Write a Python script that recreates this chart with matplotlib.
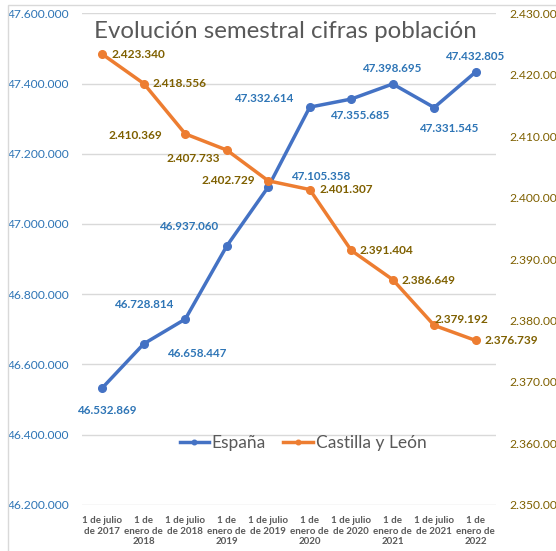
import matplotlib
matplotlib.use("Agg")
import matplotlib.pyplot as plt
from matplotlib.ticker import FuncFormatter
from matplotlib.patches import Rectangle

categories = ["1 de julio\nde 2017", "1 de\nenero de\n2018", "1 de julio\nde 2018",
              "1 de\nenero de\n2019", "1 de julio\nde 2019", "1 de\nenero de\n2020",
              "1 de julio\nde 2020", "1 de\nenero de\n2021", "1 de julio\nde 2021",
              "1 de\nenero de\n2022"]
espana = [46532869, 46658447, 46728814, 46937060, 47105358,
          47332614, 47355685, 47398695, 47331545, 47432805]
cyl = [2423340, 2418556, 2410369, 2407733, 2402729,
       2401307, 2391404, 2386649, 2379192, 2376739]

title = "Evolución semestral cifras población"

# label offsets in pixels (layout only; +y is up)
esp_off = [(5, -23), (54, -10), (-41, 15), (-37, 19), (53, 10),
           (-45, 9), (9, -16), (0, 15), (15, -21), (0, 15)]
cyl_off = [(36, 0), (36, 0), (-50, -2), (-34, -8), (-40, 0),
           (36, 0), (35, 0), (36, -1), (27, 6), (36, 0)]

def fmt(v):
    return f"{int(round(v)):,}".replace(",", ".")

plt.rcParams['font.family'] = ['Lato', 'DejaVu Sans']

W, H = 556, 551
fig = plt.figure(figsize=(W / 100, H / 100), dpi=100)
fig.patches.append(Rectangle((7.5 / W, -0.1), 1.2, (1 - 4.5 / H) + 0.1, transform=fig.transFigure,
                             fill=False, edgecolor="#D9D9D9", linewidth=1.0))

left, right, top, bottom = 81.6, 496.4, 13.3, 504.7
ax = fig.add_axes([left / W, 1 - bottom / H, (right - left) / W, (bottom - top) / H])
ax2 = ax.twinx()

x = list(range(len(categories)))
blue = "#4472C4"
orange = "#ED7D31"
blue_txt = "#2E75B6"
gold_txt = "#7F6000"

ax.plot(x, espana, color=blue, lw=2.5, marker="o", ms=5.5, zorder=3, label="España")
ax2.plot(x, cyl, color=orange, lw=2.5, marker="o", ms=5.5, zorder=3, label="Castilla y León")

ax.set_ylim(46200000, 47600000)
ax.set_yticks(range(46200000, 47600001, 200000))
ax2.set_ylim(2350000, 2430000)
ax2.set_yticks(range(2350000, 2430001, 10000))
ax.set_xlim(-0.5, len(categories) - 0.5)
ax.set_xticks(x)
ax.set_xticklabels(categories, fontsize=7.0, color="#595959", fontweight="bold", linespacing=1.25)

ax.yaxis.set_major_formatter(FuncFormatter(lambda v, p: fmt(v)))
ax2.yaxis.set_major_formatter(FuncFormatter(lambda v, p: fmt(v)))
ax.tick_params(axis="y", length=0, pad=8.6, labelsize=8.7, labelcolor=blue_txt)
ax2.tick_params(axis="y", length=0, pad=9.3, labelsize=8.7, labelcolor=gold_txt)
ax.tick_params(axis="x", length=0, pad=8)
for a in (ax, ax2):
    for s in a.spines.values():
        s.set_visible(False)
ax.grid(axis="y", color="#D9D9D9", lw=1.0)
ax.set_axisbelow(True)
ax.patch.set_visible(False)

for i, (v, o) in enumerate(zip(espana, esp_off)):
    ax.annotate(fmt(v), (i, v), xytext=o, textcoords="offset pixels", ha="center", va="center",
                fontsize=8.4, fontweight="bold", color=blue_txt, zorder=5)
for i, (v, o) in enumerate(zip(cyl, cyl_off)):
    ax2.annotate(fmt(v), (i, v), xytext=o, textcoords="offset pixels", ha="center", va="center",
                 fontsize=8.6, fontweight="bold", color=gold_txt, zorder=5)

fig.text(285 / W, 1 - 31 / H, title, ha="center", va="center", fontsize=17.3, color="#595959")

h1, l1 = ax.get_legend_handles_labels()
h2, l2 = ax2.get_legend_handles_labels()
ax2.legend(h1 + h2, l1 + l2, loc="center", bbox_to_anchor=(303 / W, 1 - 443 / H),
           bbox_transform=fig.transFigure, ncol=2, frameon=False, fontsize=12.5,
           labelcolor="#595959", handlelength=1.7, handletextpad=0.15, columnspacing=1.0,
           markerscale=0.6, borderpad=0, borderaxespad=0)

fig.savefig("out.png", dpi=100)
